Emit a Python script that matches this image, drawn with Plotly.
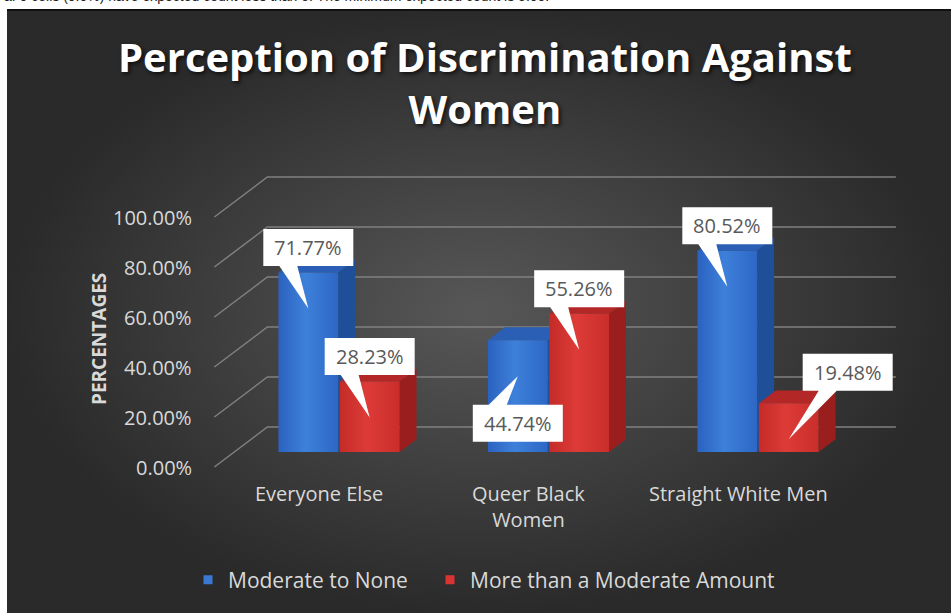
import plotly.graph_objects as go

# ---- data -------------------------------------------------------------
categories = ["Everyone Else", "Queer Black<br>Women", "Straight White Men"]
series_names = ["Moderate to None", "More than a Moderate Amount"]
moderate_to_none = [71.77, 44.74, 80.52]
more_than_moderate = [28.23, 55.26, 19.48]
y_ticks = [0, 20, 40, 60, 80, 100]
y_tick_labels = ["0.00%", "20.00%", "40.00%", "60.00%", "80.00%", "100.00%"]
title_text = "Perception of Discrimination Against<br>Women"
y_title = "PERCENTAGES"
note_text = "a. 0 cells (0.0%) have expected count less than 5. The minimum expected count is 5.00."

# ---- geometry / style -------------------------------------------------
W, H = 951, 613
PX_PER_CAT = 209.5          # pixels between category centres
PX_PER_PCT = 2.5            # pixels per percentage point
X0_PX, Y0_PX = 339, 452     # pixel position of category 0 / 0 % on the bar plane

BAR_W = 0.285               # bar width in category units
BAR_GAP = 0.004
DEPTH_PX = (-53, 40)        # projected back-wall -> front-edge vector (pixels)
BAR_PLANE = 0.625           # depth of the bars' front faces (0 = wall, 1 = front)
BAR_DEPTH = 0.32            # bar thickness as a fraction of the floor depth

FONT = "Open Sans"
LIGHT = "#d9d9d9"
GRID = "#808080"

SERIES_STYLE = [
    dict(front=[[0, "#2b62bf"], [0.45, "#3d80da"], [1, "#2d67c5"]],
         side="#204f99", top="#2a5fb5", legend="#3a78d2"),
    dict(front=[[0, "#c42b28"], [0.45, "#dd3b37"], [1, "#c92e2b"]],
         side="#9b1e1e", top="#b42727", legend="#d83532"),
]
LEGEND_X_PX = [188, 430]    # left edge of each legend entry

# callout offsets (pixels) of label box centre from the bar's top centre
CALLOUT_OFFSETS = {(0, 0): (0, -25), (0, 1): (0, -25), (1, 0): (0, 83),
                   (1, 1): (0, -25), (2, 0): (0, -25), (2, 1): (59, -31)}
BOX_W, BOX_H = 90, 37
TIP_DROP = 36


def ux(p):
    return p / PX_PER_CAT


def uy(p):
    return -p / PX_PER_PCT


def to_x(px):
    return (px - X0_PX) / PX_PER_CAT


def to_y(py):
    return (Y0_PX - py) / PX_PER_PCT


def depth_offset(d):
    return ux(DEPTH_PX[0] * (d - BAR_PLANE)), uy(DEPTH_PX[1] * (d - BAR_PLANE))


x_range = [to_x(0), to_x(W)]
y_range = [to_y(H), to_y(0)]

fig = go.Figure()

# dark chart panel with a soft radial glow
px_l, px_t = 7, 10
fig.add_trace(go.Scatter(
    x=[to_x(px_l), to_x(W), to_x(W), to_x(px_l), to_x(px_l)],
    y=[to_y(px_t), to_y(px_t), to_y(H), to_y(H), to_y(px_t)],
    fill="toself", mode="lines", line=dict(width=0),
    fillgradient=dict(type="radial", colorscale=[[0, "#575757"], [1, "#2a2a2a"]]),
    hoverinfo="skip", showlegend=False))

# back wall gridlines and their diagonal floor edges
bx, by = depth_offset(0)
fx, fy = depth_offset(1)
wall_l, wall_r = -0.5, len(categories) - 0.5
for t in y_ticks:
    fig.add_trace(go.Scatter(
        x=[wall_l + fx, wall_l + bx, wall_r + bx],
        y=[t + fy, t + by, t + by],
        mode="lines", line=dict(color=GRID, width=1.5),
        hoverinfo="skip", showlegend=False))

# 3-D bars
bdx, bdy = ux(-DEPTH_PX[0] * BAR_DEPTH), uy(-DEPTH_PX[1] * BAR_DEPTH)
series_values = [moderate_to_none, more_than_moderate]
bars = []
for i in range(len(categories)):
    for s, vals in enumerate(series_values):
        v = vals[i]
        st = SERIES_STYLE[s]
        if s == 0:
            xl, xr = i - BAR_GAP - BAR_W, i - BAR_GAP
        else:
            xl, xr = i + BAR_GAP, i + BAR_GAP + BAR_W
        bars.append((i, s, v, (xl + xr) / 2))
        fig.add_trace(go.Scatter(
            x=[xr, xr + bdx, xr + bdx, xr, xr], y=[0, bdy, v + bdy, v, 0],
            fill="toself", mode="lines", line=dict(width=0), fillcolor=st["side"],
            hoverinfo="skip", showlegend=False))
        fig.add_trace(go.Scatter(
            x=[xl, xr, xr + bdx, xl + bdx, xl], y=[v, v, v + bdy, v + bdy, v],
            fill="toself", mode="lines", line=dict(width=0), fillcolor=st["top"],
            hoverinfo="skip", showlegend=False))
        fig.add_trace(go.Scatter(
            x=[xl, xr, xr, xl, xl], y=[0, 0, v, v, 0],
            fill="toself", mode="lines", line=dict(width=0),
            fillgradient=dict(type="horizontal", colorscale=st["front"]),
            name=series_names[s], hoverinfo="skip", showlegend=False))

# callout labels
for i, s, v, cx in bars:
    ox, oy = CALLOUT_OFFSETS[(i, s)]
    bx_c, by_c = cx + ux(ox), v + uy(oy)
    L, R = bx_c - ux(BOX_W / 2), bx_c + ux(BOX_W / 2)
    T, B = by_c - uy(BOX_H / 2), by_c + uy(BOX_H / 2)
    tipx, tipy = cx, v + uy(TIP_DROP)
    b1, b2 = bx_c + ux(-29), bx_c + ux(-11)
    if tipy < B:
        xs = [L, R, R, b2, tipx, b1, L, L]
        ys = [T, T, B, B, tipy, B, B, T]
    else:
        xs = [L, b1, tipx, b2, R, R, L, L]
        ys = [T, T, tipy, T, T, B, B, T]
    fig.add_trace(go.Scatter(
        x=xs, y=ys, fill="toself", mode="lines", line=dict(width=0),
        fillcolor="#ffffff", hoverinfo="skip", showlegend=False))
    fig.add_annotation(x=bx_c, y=by_c, xref="x", yref="y", text=f"{v:.2f}%",
                       showarrow=False, font=dict(family=FONT, size=20, color="#595959"))

# legend entries, one legend box per series
legend_names = ["legend", "legend2"]
for s, name in enumerate(series_names):
    fig.add_trace(go.Scatter(
        x=[None], y=[None], mode="markers", name=name, legend=legend_names[s],
        marker=dict(symbol="square", size=9, color=SERIES_STYLE[s]["legend"])))

# y tick labels along the front edge
for t, lab in zip(y_ticks, y_tick_labels):
    fig.add_annotation(x=wall_l + fx, y=t + fy, xref="x", yref="y", text=lab,
                       showarrow=False, xanchor="right", xshift=-20,
                       font=dict(family=FONT, size=20, color=LIGHT))

# category labels
for i, cat in enumerate(categories):
    fig.add_annotation(x=i + fx, y=fy, xref="x", yref="y", text=cat,
                       showarrow=False, yanchor="top", yshift=-11,
                       font=dict(family=FONT, size=20, color=LIGHT))

# axis title
fig.add_annotation(x=84 / W, y=1 - 339 / H, xref="paper", yref="paper",
                   text=y_title, textangle=-90, showarrow=False,
                   font=dict(family=FONT, size=19, color=LIGHT, weight="bold"))

# chart title
fig.add_annotation(x=485 / W, y=1 - 27 / H, xref="paper", yref="paper",
                   text=title_text, showarrow=False, xanchor="center", yanchor="top",
                   font=dict(family=FONT, size=40, color="#ffffff", weight="bold",
                             shadow="2px 2px 4px rgba(0,0,0,0.7)"))

# table footnote above the panel
fig.add_annotation(x=2 / W, y=1 + 4 / H, xref="paper", yref="paper", text=note_text,
                   showarrow=False, xanchor="left", yanchor="middle",
                   font=dict(family="Liberation Sans", size=14, color="#222222"))

fig.add_shape(type="line", xref="paper", yref="paper",
              x0=px_l / W, x1=1, y0=1 - px_t / H, y1=1 - px_t / H,
              line=dict(color="#111111", width=2))

legend_style = dict(orientation="h", xanchor="left", y=1 - 580 / H, yanchor="middle",
                    font=dict(family=FONT, size=21, color=LIGHT), bgcolor="rgba(0,0,0,0)")

fig.update_layout(
    width=W, height=H,
    margin=dict(l=0, r=0, t=0, b=0, autoexpand=False),
    paper_bgcolor="#ffffff", plot_bgcolor="rgba(0,0,0,0)",
    xaxis=dict(range=x_range, visible=False, fixedrange=True),
    yaxis=dict(range=y_range, visible=False, fixedrange=True),
    legend=dict(x=LEGEND_X_PX[0] / W, **legend_style),
    legend2=dict(x=LEGEND_X_PX[1] / W, **legend_style),
    showlegend=True,
)

fig.write_html("out.html")
